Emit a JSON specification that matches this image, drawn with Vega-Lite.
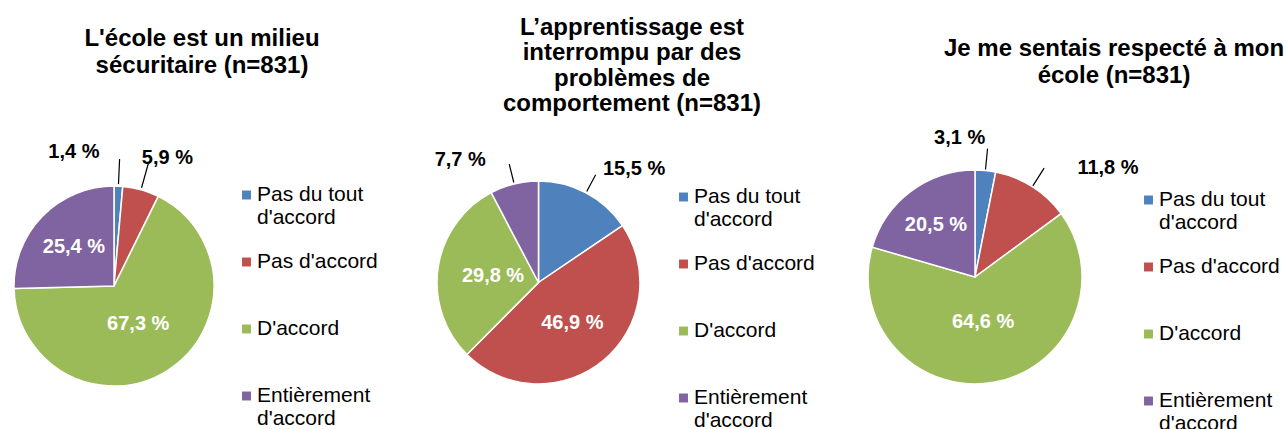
{
  "$schema": "https://vega.github.io/schema/vega-lite/v6.json",
  "background": "white",
  "padding": {"left": 11, "top": 16, "right": 0, "bottom": 0},
  "spacing": 223,
  "bounds": "flush",
  "config": {
    "font": "Liberation Sans",
    "view": {"stroke": null},
    "locale": {"number": {"decimal": ",", "thousands": " ", "grouping": [3], "currency": ["", " €"], "percent": " %"}},
    "title": {"font": "Liberation Sans", "fontSize": 24, "fontWeight": "bold", "color": "black", "lineHeight": 27, "anchor": "middle", "frame": "group"},
    "legend": {"labelFont": "Liberation Sans", "labelFontSize": 21, "labelColor": "black", "symbolType": "square", "symbolSize": 80, "symbolStrokeWidth": 0, "labelOffset": 0, "rowPadding": 22, "padding": 0, "labelLimit": 400}
  },
  "datasets": {
    "p1": [
      {"cat": "Pas du tout d'accord", "k": 1, "v": 0.014},
      {"cat": "Pas d'accord", "k": 2, "v": 0.059},
      {"cat": "D'accord", "k": 3, "v": 0.673},
      {"cat": "Entièrement d'accord", "k": 4, "v": 0.254}
    ],
    "p2": [
      {"cat": "Pas du tout d'accord", "k": 1, "v": 0.155},
      {"cat": "Pas d'accord", "k": 2, "v": 0.469},
      {"cat": "D'accord", "k": 3, "v": 0.298},
      {"cat": "Entièrement d'accord", "k": 4, "v": 0.077}
    ],
    "p3": [
      {"cat": "Pas du tout d'accord", "k": 1, "v": 0.031},
      {"cat": "Pas d'accord", "k": 2, "v": 0.118},
      {"cat": "D'accord", "k": 3, "v": 0.646},
      {"cat": "Entièrement d'accord", "k": 4, "v": 0.205}
    ]
  },
  "resolve": {"scale": {"color": "independent", "theta": "independent"}, "legend": {"color": "independent"}},
  "hconcat": [
    {
      "width": 200, "height": 232,
      "data": {"name": "p1"},
      "title": {"text": ["L'école est un milieu", "sécuritaire (n=831)"], "dx": 88, "offset": 64},
      "encoding": {
        "theta": {"field": "v", "type": "quantitative", "stack": true},
        "order": {"field": "k", "type": "quantitative"},
        "detail": {"field": "cat", "type": "nominal"}
      },
      "layer": [
        {"mark": {"type": "arc", "radius": 100, "stroke": "white", "strokeWidth": 1.5},
         "encoding": {"color": {"field": "cat", "type": "nominal",
           "scale": {"domain": ["Pas du tout d'accord", "Pas d'accord", "D'accord", "Entièrement d'accord"], "range": ["#4F81BD", "#C0504D", "#9BBB59", "#8064A2"]},
           "legend": {"title": null, "orient": "none", "legendX": 222, "legendY": 14.5,
             "labelExpr": "datum.value == \"Pas du tout d'accord\" ? ['Pas du tout', \"d'accord\"] : datum.value == \"Entièrement d'accord\" ? ['Entièrement', \"d'accord\"] : [datum.value, '']",
             "encode": {"labels": {"update": {"dy": {"value": 12}, "lineHeight": {"value": 24}}}}}}}},
        {"transform": [{"filter": "datum.k <= 2"}],
         "mark": {"type": "arc", "radius": 127, "radius2": 102, "padAngle": 3.1, "fill": "transparent", "stroke": "black", "strokeWidth": 1.2}},
        {"mark": {"type": "text", "radius": 56, "fontSize": 20, "fontWeight": "bold", "fill": "white"},
         "encoding": {"text": {"condition": {"test": "datum.k == 4", "field": "v", "type": "quantitative", "format": ".1%"}, "value": ""}}},
        {"mark": {"type": "text", "radius": 45, "fontSize": 20, "fontWeight": "bold", "fill": "white"},
         "encoding": {"text": {"condition": {"test": "datum.k == 3", "field": "v", "type": "quantitative", "format": ".1%"}, "value": ""}}},
        {"transform": [{"filter": "datum.k <= 1"}],
         "mark": {"type": "text", "radius": 135, "dx": -46, "dy": 1, "fontSize": 20, "fontWeight": "bold", "fill": "black"},
         "encoding": {"text": {"condition": {"test": "datum.k == 1", "field": "v", "type": "quantitative", "format": ".1%"}, "value": ""}}},
        {"transform": [{"filter": "datum.k <= 2"}],
         "mark": {"type": "text", "radius": 135, "dx": 17, "dy": 2, "fontSize": 20, "fontWeight": "bold", "fill": "black"},
         "encoding": {"text": {"condition": {"test": "datum.k == 2", "field": "v", "type": "quantitative", "format": ".1%"}, "value": ""}}}
      ]
    },
    {
      "width": 203, "height": 225,
      "data": {"name": "p2"},
      "title": {"text": ["L’apprentissage est", "interrompu par des", "problèmes de", "comportement (n=831)"], "dx": 93.5, "offset": 34, "lineHeight": 25.3},
      "encoding": {
        "theta": {"field": "v", "type": "quantitative", "stack": true},
        "order": {"field": "k", "type": "quantitative"},
        "detail": {"field": "cat", "type": "nominal"}
      },
      "layer": [
        {"mark": {"type": "arc", "radius": 101.5, "stroke": "white", "strokeWidth": 1.5},
         "encoding": {"color": {"field": "cat", "type": "nominal",
           "scale": {"domain": ["Pas du tout d'accord", "Pas d'accord", "D'accord", "Entièrement d'accord"], "range": ["#4F81BD", "#C0504D", "#9BBB59", "#8064A2"]},
           "legend": {"title": null, "orient": "none", "legendX": 236, "legendY": 16.5,
             "labelExpr": "datum.value == \"Pas du tout d'accord\" ? ['Pas du tout', \"d'accord\"] : datum.value == \"Entièrement d'accord\" ? ['Entièrement', \"d'accord\"] : [datum.value, '']",
             "encode": {"labels": {"update": {"dy": {"value": 12}, "lineHeight": {"value": 24}}}}}}}},
        {"mark": {"type": "arc", "radius": 122, "radius2": 103, "padAngle": 3.1, "fill": "transparent", "stroke": "black", "strokeWidth": 1.2},
         "encoding": {"strokeOpacity": {"condition": {"test": "datum.v < 0.2", "value": 1}, "value": 0}}},
        {"mark": {"type": "text", "radius": 53, "fontSize": 20, "fontWeight": "bold", "fill": "white"},
         "encoding": {"text": {"condition": {"test": "datum.k == 2", "field": "v", "type": "quantitative", "format": ".1%"}, "value": ""}}},
        {"mark": {"type": "text", "radius": 46, "fontSize": 20, "fontWeight": "bold", "fill": "white"},
         "encoding": {"text": {"condition": {"test": "datum.k == 3", "field": "v", "type": "quantitative", "format": ".1%"}, "value": ""}}},
        {"transform": [{"filter": "datum.k <= 1"}],
         "mark": {"type": "text", "radius": 125, "dx": 37, "dy": -3, "fontSize": 20, "fontWeight": "bold", "fill": "black"},
         "encoding": {"text": {"condition": {"test": "datum.k == 1", "field": "v", "type": "quantitative", "format": ".1%"}, "value": ""}}},
        {"mark": {"type": "text", "radius": 122, "dx": -49, "dy": -4, "fontSize": 20, "fontWeight": "bold", "fill": "black"},
         "encoding": {"text": {"condition": {"test": "datum.k == 4", "field": "v", "type": "quantitative", "format": ".1%"}, "value": ""}}}
      ]
    },
    {
      "width": 224, "height": 214,
      "data": {"name": "p3"},
      "title": {"text": ["Je me sentais respecté à mon", "école (n=831)"], "dx": 139, "offset": 40},
      "encoding": {
        "theta": {"field": "v", "type": "quantitative", "stack": true},
        "order": {"field": "k", "type": "quantitative"},
        "detail": {"field": "cat", "type": "nominal"}
      },
      "layer": [
        {"mark": {"type": "arc", "radius": 107, "stroke": "white", "strokeWidth": 1.5},
         "encoding": {"color": {"field": "cat", "type": "nominal",
           "scale": {"domain": ["Pas du tout d'accord", "Pas d'accord", "D'accord", "Entièrement d'accord"], "range": ["#4F81BD", "#C0504D", "#9BBB59", "#8064A2"]},
           "legend": {"title": null, "orient": "none", "legendX": 275, "legendY": 19.5,
             "labelExpr": "datum.value == \"Pas du tout d'accord\" ? ['Pas du tout', \"d'accord\"] : datum.value == \"Entièrement d'accord\" ? ['Entièrement', \"d'accord\"] : [datum.value, '']",
             "encode": {"labels": {"update": {"dy": {"value": 12}, "lineHeight": {"value": 24}}}}}}}},
        {"transform": [{"filter": "datum.k <= 2"}],
         "mark": {"type": "arc", "radius": 129, "radius2": 108, "padAngle": 3.1, "fill": "transparent", "stroke": "black", "strokeWidth": 1.2}},
        {"mark": {"type": "text", "radius": 46, "fontSize": 20, "fontWeight": "bold", "fill": "white"},
         "encoding": {"text": {"condition": {"test": "datum.k == 3", "field": "v", "type": "quantitative", "format": ".1%"}, "value": ""}}},
        {"mark": {"type": "text", "radius": 65, "fontSize": 20, "fontWeight": "bold", "fill": "white"},
         "encoding": {"text": {"condition": {"test": "datum.k == 4", "field": "v", "type": "quantitative", "format": ".1%"}, "value": ""}}},
        {"transform": [{"filter": "datum.k <= 1"}],
         "mark": {"type": "text", "radius": 130, "dx": -28, "dy": -10, "fontSize": 20, "fontWeight": "bold", "fill": "black"},
         "encoding": {"text": {"condition": {"test": "datum.k == 1", "field": "v", "type": "quantitative", "format": ".1%"}, "value": ""}}},
        {"transform": [{"filter": "datum.k <= 2"}],
         "mark": {"type": "text", "radius": 125, "dx": 66, "dy": -3, "fontSize": 20, "fontWeight": "bold", "fill": "black"},
         "encoding": {"text": {"condition": {"test": "datum.k == 2", "field": "v", "type": "quantitative", "format": ".1%"}, "value": ""}}}
      ]
    }
  ]
}
